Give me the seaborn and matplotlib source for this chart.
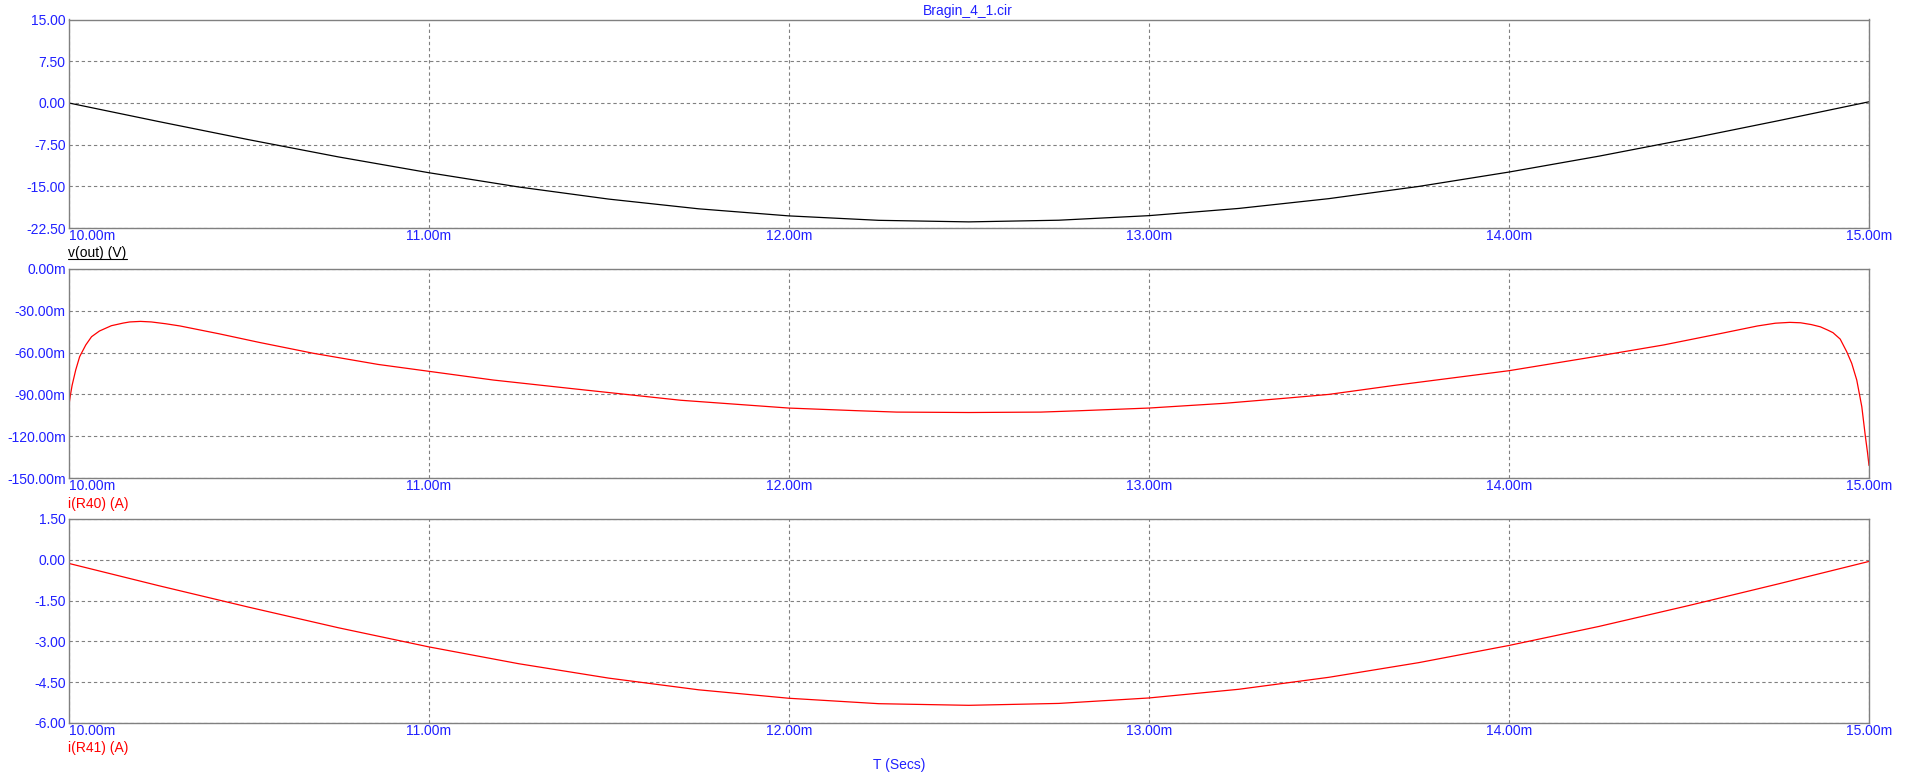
import numpy as np
import pandas as pd
import seaborn as sns
import matplotlib.pyplot as plt
from matplotlib.lines import Line2D

# time axis in ms
t_smooth = [10.00, 10.25, 10.50, 10.75, 11.00, 11.25, 11.50, 11.75, 12.00, 12.25, 12.50,
            12.75, 13.00, 13.25, 13.50, 13.75, 14.00, 14.25, 14.50, 14.75, 15.00]

# v(out) in V
v_out = [0.00, -3.35, -6.61, -9.72, -12.55, -15.12, -17.30, -19.05, -20.32, -21.12, -21.40,
         -21.10, -20.28, -18.98, -17.22, -15.02, -12.44, -9.58, -6.46, -3.18, 0.20]

# i(R41) in A
i_r41 = [-0.13, -0.95, -1.74, -2.50, -3.20, -3.82, -4.35, -4.78, -5.09, -5.29, -5.35,
         -5.28, -5.08, -4.76, -4.32, -3.78, -3.15, -2.45, -1.68, -0.88, -0.06]

# i(R40) in mA, denser near the edges
t_r40 = [10.000, 10.005, 10.010, 10.020, 10.031, 10.048, 10.064, 10.086, 10.119, 10.152,
         10.170, 10.200, 10.230, 10.270, 10.310, 10.420, 10.530, 10.680, 10.860, 11.000,
         11.180, 11.400, 11.700, 12.000, 12.190, 12.300, 12.500, 12.700, 12.800, 13.000,
         13.210, 13.390, 13.500, 13.680, 14.000, 14.220, 14.430, 14.590, 14.690, 14.740,
         14.780, 14.810, 14.840, 14.865, 14.885, 14.900, 14.920, 14.938, 14.952, 14.966,
         14.980, 14.990, 14.996, 15.000]
i_r40 = [-100.0, -91.0, -83.5, -72.5, -62.9, -54.5, -48.6, -44.5, -40.7, -38.8,
         -38.0, -37.6, -38.0, -39.3, -40.9, -46.6, -52.7, -60.5, -68.5, -73.4,
         -79.7, -85.9, -94.2, -99.8, -101.7, -102.7, -103.0, -102.7, -101.8, -99.8,
         -96.4, -92.5, -90.0, -83.6, -73.0, -63.7, -54.5, -46.2, -40.9, -38.9,
         -38.3, -38.6, -39.9, -41.5, -43.8, -45.7, -50.3, -59.3, -67.7, -79.7,
         -98.8, -120.3, -132.0, -141.0]

x_ticks = [10, 11, 12, 13, 14, 15]
x_tick_labels = ['10.00m', '11.00m', '12.00m', '13.00m', '14.00m', '15.00m']

yt_vout = [-22.5, -15.0, -7.5, 0.0, 7.5, 15.0]
yt_r40 = [-150, -120, -90, -60, -30, 0]
yt_r41 = [-6.0, -4.5, -3.0, -1.5, 0.0, 1.5]

W, H = 1906, 783
BLUE = '#2020ff'
GRAY = '#808080'

sns.set_style("white")
plt.rcParams['font.family'] = ['Liberation Sans', 'DejaVu Sans']


def px(x, y):
    return x / W, 1 - y / H


fig = plt.figure(figsize=(W / 100, H / 100), dpi=100)

panels = [
    # top, bottom (px), x, y, ticks, labels, colour
    (19.5, 228, t_smooth, v_out, yt_vout, [f'{v:.2f}' for v in yt_vout], 'black'),
    (269, 478, t_r40, i_r40, yt_r40, [f'{v:.2f}m' for v in yt_r40], 'red'),
    (519, 723, t_smooth, i_r41, yt_r41, [f'{v:.2f}' for v in yt_r41], 'red'),
]

left, right = 68.5, 1869
for top, bottom, xs, ys, yt, ylab, col in panels:
    ax = fig.add_axes([left / W, 1 - bottom / H, (right - left) / W, (bottom - top) / H])
    df = pd.DataFrame({'t': xs, 'v': ys})
    sns.lineplot(data=df, x='t', y='v', ax=ax, color=col, lw=0.9, estimator=None)
    ax.set_xlim(10, 15)
    ax.set_ylim(yt[0], yt[-1])
    ax.set_xticks(x_ticks)
    ax.set_xticklabels(x_tick_labels)
    ax.set_yticks(yt)
    ax.set_yticklabels(ylab)
    ax.set_xlabel('')
    ax.set_ylabel('')
    ax.tick_params(axis='both', length=0, labelsize=10, labelcolor=BLUE)
    ax.tick_params(axis='x', pad=1)
    ax.tick_params(axis='y', pad=2)
    ax.get_xticklabels()[0].set_ha('left')
    ax.grid(True, color=GRAY, linestyle=(0, (3, 2.5)), lw=0.8)
    for s in ax.spines.values():
        s.set_color(GRAY)
        s.set_linewidth(1.0)

# title and trace names
fig.text(*px(968, 11), 'Bragin_4_1.cir', color=BLUE, fontsize=10, ha='center', va='center')
fig.text(*px(68, 253), 'v(out) (V)', color='black', fontsize=10, ha='left', va='center')
fig.add_artist(Line2D([68 / W, 127 / W], [1 - 259 / H] * 2, color='black', lw=0.8))
fig.text(*px(68, 504), 'i(R40) (A)', color='red', fontsize=10, ha='left', va='center')
fig.text(*px(68, 748), 'i(R41) (A)', color='red', fontsize=10, ha='left', va='center')
fig.text(*px(899, 765), 'T (Secs)', color=BLUE, fontsize=10, ha='center', va='center')

fig.savefig('out.png', dpi=100)
